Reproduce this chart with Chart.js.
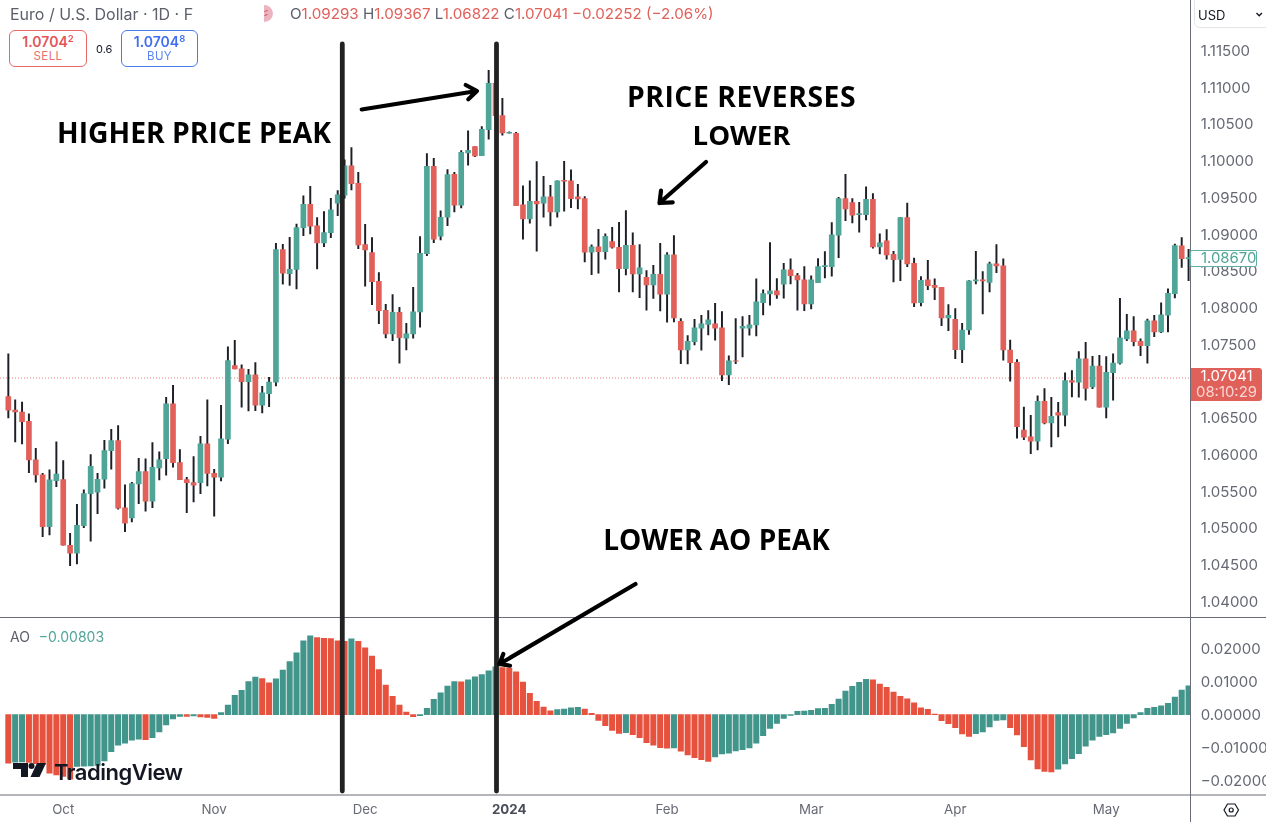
<!DOCTYPE html>
<html>
<head>
<meta charset="utf-8">
<script src="https://cdn.jsdelivr.net/npm/chart.js@4/dist/chart.umd.min.js"></script>
<style>
html,body{margin:0;padding:0;background:#fff;width:1266px;height:830px;overflow:hidden}
#wrap{position:relative;width:1266px;height:830px;font-family:Inter,sans-serif}
canvas{position:absolute;left:0;top:0}
svg{position:absolute;left:0;top:0}
.t{position:absolute;white-space:nowrap;line-height:1}
.ann{font-family:"Open Sans",sans-serif;font-weight:700;font-size:28.3px;color:#000;text-align:center;transform:translateX(-50%)}
.box{position:absolute;box-sizing:border-box;border-radius:6px;background:#fff;text-align:center}
sup{font-size:9.5px;vertical-align:top;position:relative;top:-1px;line-height:1}
</style>
</head>
<body>
<div id="wrap">
<canvas id="c" width="1266" height="830"></canvas>
<svg width="1266" height="830" viewBox="0 0 1266 830">
  <g stroke="#6a6d78" stroke-width="1" fill="none">
    <line x1="0" y1="617.5" x2="1266" y2="617.5"/>
    <line x1="0" y1="795" x2="1266" y2="795"/>
    <line x1="1190.5" y1="0" x2="1190.5" y2="822"/>
  </g>
  <g stroke="#222222" stroke-width="4.8" stroke-linecap="round">
    <line x1="342.3" y1="44" x2="342.3" y2="791"/>
    <line x1="496.5" y1="44" x2="496.5" y2="791"/>
  </g>
  <g stroke="#000" stroke-width="4.2" stroke-linecap="round" stroke-linejoin="round" fill="none">
    <path d="M361.7 109.5 L476.7 91 M465.7 85 L477 91 L468.3 99.3"/>
    <path d="M706 162 L659.5 203 M661 190.7 L659.5 203 L672.7 202.3"/>
    <path d="M635.5 584 L499.5 664 M503.3 654 L499.5 664 L510 665.7"/>
  </g>
  <g fill="#131722">
    <path d="M13 763 H28 V777 H21 V769 H13 Z"/>
    <circle cx="31.5" cy="766" r="3"/>
    <path d="M37 763 H46 L39.5 777 H30.5 Z"/>
  </g>
  <g stroke="#131722" stroke-width="1.2" fill="none">
    <path d="M1224 810 L1227.5 804 H1235 L1238.5 810 L1235 816 H1227.5 Z"/>
    <circle cx="1231.2" cy="810" r="2"/>
  </g>
  <path d="M264 5 A9 8.5 0 0 1 264 22 Z" fill="#ecb4c0"/>
  <path d="M264.5 11.5 l3 -1 M264.5 15.5 l3 -1" stroke="#d9475a" stroke-width="1"/>
</svg>

<div class="t" style="left:10px;top:5px;width:183px;overflow:hidden;font-size:16px;color:#5d606b;height:18px;line-height:18px">Euro / U.S. Dollar · 1D · FXCM</div>
<div class="t" style="left:290px;top:6px;font-size:15.15px;color:#e0605a;line-height:16px"><span style="color:#5d606b">O</span>1.09293 <span style="color:#5d606b">H</span>1.09367 <span style="color:#5d606b">L</span>1.06822 <span style="color:#5d606b">C</span>1.07041 −0.02252 (−2.06%)</div>

<div class="box" style="left:9px;top:30px;width:78px;height:37px;border:1px solid #e9666a;color:#e2565a">
  <div style="font-size:14px;font-weight:600;margin-top:4px;line-height:14px">1.0704<sup>2</sup></div>
  <div style="font-size:11.5px;margin-top:1px;line-height:13px;color:#e8706f;letter-spacing:.4px">SELL</div>
</div>
<div class="t" style="left:96px;top:43px;font-size:11px;color:#131722;line-height:12px">0.6</div>
<div class="box" style="left:121px;top:30px;width:77px;height:37px;border:1px solid #4a78ee;color:#3f6ef0">
  <div style="font-size:14px;font-weight:600;margin-top:4px;line-height:14px">1.0704<sup>8</sup></div>
  <div style="font-size:11.5px;margin-top:1px;line-height:13px;color:#5a84f0;letter-spacing:.4px">BUY</div>
</div>

<div class="box" style="left:1194px;top:-6px;width:78px;height:34px;border:1px solid #e4e5e9;"></div>
<svg width="1266" height="40" style="pointer-events:none"><path d="M1256.5 13 l2.7 2.7 l2.7 -2.7" stroke="#131722" stroke-width="1.4" fill="none"/></svg>
<div class="t" style="left:1198px;top:7.5px;font-size:13px;color:#131722;line-height:14px">USD</div>

<div class="box" style="left:1190px;top:249.5px;width:67px;height:17px;border:1.3px solid #5fb0a4;border-radius:2px;color:#4fa497;font-size:14.9px;line-height:14px;text-align:left;padding-left:10px">1.08670</div>
<div class="box" style="left:1191px;top:368px;width:71px;height:33px;background:#e0605a;border-radius:0 3px 3px 0;color:#fff;font-size:14.9px;line-height:15.5px;padding-top:1px;">1.07041<br><span style="color:#f9d6d3">08:10:29</span></div>

<div class="t" style="left:10px;top:629px;font-size:14px;color:#5d606b;line-height:15px">AO <span style="color:#4fa497;margin-left:5px">−0.00803</span></div>

<div class="t" style="left:54px;top:760px;font-size:22px;font-weight:600;color:#131722;letter-spacing:-.5px;line-height:24px">TradingView</div>

<div class="t ann" style="left:194px;top:114px;line-height:36px">HIGHER PRICE PEAK</div>
<div class="t ann" style="left:741.5px;top:77px;line-height:38px"><span style="letter-spacing:.55px">PRICE REVERSES</span><br><span style="font-size:27.6px">LOWER</span></div>
<div class="t ann" style="left:716.5px;top:521px;line-height:36px;font-size:28px">LOWER AO PEAK</div>
</div>

<script>
const opens = [1.06788,1.06606,1.06579,1.06452,1.05926,1.05722,1.05019,1.05645,1.05658,1.04764,1.04656,1.05032,1.05468,1.05486,1.05663,1.06053,1.06189,1.05273,1.05137,1.05599,1.05767,1.05363,1.05817,1.05944,1.06688,1.0589,1.05658,1.05617,1.05617,1.06144,1.05744,1.0569,1.06207,1.0721,1.07165,1.06992,1.07083,1.0667,1.06829,1.06983,1.08789,1.08462,1.08521,
1.09089,1.09406,1.09112,1.0888,1.09021,1.0942,1.09529,1.09928,1.09692,1.08858,1.08749,1.08358,1.07964,1.07642,1.07936,1.07583,1.07642,1.07941,1.08735,1.09924,1.08971,1.0923,1.09815,1.09393,1.10105,1.10191,1.10069,1.10423,1.11053,1.10613,1.10373,1.10373,1.09397,1.09207,1.09447,1.0942,1.09506,1.09302,1.09733,1.09724,1.09506,
1.09484,1.08753,1.08826,1.08762,1.08898,1.08821,1.08531,1.08849,1.08458,1.08413,1.08309,1.08454,1.08182,1.08717,1.07814,1.07424,1.07537,1.07719,1.07769,1.07778,1.07723,1.07084,1.07274,1.07719,1.07719,1.07764,1.08068,1.08186,1.08227,1.08318,1.08513,1.08436,1.08377,1.0805,1.0834,1.08558,1.08558,1.08985,1.09484,1.09429,1.09266,1.09266,1.09475,1.08826,1.08908,1.08726,
1.08657,1.09224,1.08603,1.08067,1.08376,1.08303,1.08276,1.07859,1.07841,1.07428,1.07695,1.08363,1.08376,1.08344,1.08594,1.08567,1.07423,1.07255,1.06334,1.06239,1.0618,1.06725,1.0643,1.0657,1.06534,1.07006,1.06983,1.07301,1.0692,1.07205,1.06643,1.07115,1.07242,1.07573,1.07682,1.07541,1.07482,1.07818,1.07668,1.07895,1.0819,1.08839,1.08666];
const highs = [1.07369,1.06743,1.06715,1.06552,1.06085,1.05744,1.0579,1.06171,1.05917,1.04928,1.05322,1.05518,1.05999,1.05744,1.06194,1.06343,1.06393,1.05586,1.05622,1.05949,1.0594,1.06162,1.06035,1.06779,1.06942,1.06067,1.0569,1.05971,1.06248,1.06743,1.05799,1.0667,1.07464,1.07555,1.07219,1.0716,1.07251,1.06929,1.07051,1.08875,1.08861,1.08957,1.09138,
1.0952,1.09651,1.09225,1.09307,1.09488,1.09593,1.1001,1.10178,1.09842,1.09134,1.08953,1.08476,1.08045,1.08177,1.08005,1.07787,1.08277,1.08966,1.10096,1.10033,1.09316,1.09878,1.09842,1.10137,1.10405,1.10191,1.10464,1.1123,1.11099,1.10849,1.10391,1.10386,1.09656,1.09724,1.09987,1.09788,1.09665,1.09724,1.09992,1.09874,1.09679,
1.09511,1.08853,1.09066,1.09003,1.09094,1.09162,1.0932,1.09016,1.08858,1.08504,1.08576,1.08876,1.08749,1.0898,1.0785,1.07619,1.07841,1.07896,1.07959,1.08059,1.07946,1.07342,1.0785,1.07878,1.07896,1.0839,1.08241,1.08885,1.08395,1.08604,1.08663,1.08467,1.08558,1.08431,1.08667,1.08762,1.09157,1.09502,1.09815,1.09484,1.09434,1.09643,1.09552,1.09003,1.09062,1.08767,
1.09224,1.09424,1.08675,1.08421,1.08644,1.0839,1.08276,1.0804,1.07986,1.07786,1.08367,1.08766,1.08489,1.08621,1.08857,1.08662,1.07559,1.07292,1.06647,1.06534,1.06797,1.06897,1.06779,1.06711,1.0711,1.07142,1.07401,1.07528,1.07337,1.07351,1.07332,1.07369,1.08126,1.07909,1.07877,1.07573,1.07845,1.07895,1.08063,1.08254,1.08866,1.08952,1.08793];
const lows = [1.06498,1.06171,1.06144,1.05753,1.05622,1.04882,1.04905,1.05563,1.04764,1.04488,1.0451,1.05005,1.04819,1.05195,1.0554,1.05799,1.05254,1.0495,1.05082,1.05332,1.05227,1.05277,1.05654,1.05717,1.05826,1.05658,1.05209,1.05354,1.05468,1.05572,1.05159,1.0564,1.06148,1.07165,1.06643,1.06593,1.06597,1.06566,1.06652,1.06933,1.08317,1.08303,1.08253,
1.0898,1.09003,1.08526,1.0883,1.08953,1.09252,1.09488,1.09602,1.08803,1.0829,1.08041,1.07782,1.07587,1.07551,1.07242,1.07424,1.07583,1.07732,1.08708,1.08885,1.08921,1.09116,1.09302,1.09357,1.09937,1.10055,1.10069,1.10291,1.10554,1.10346,1.10373,1.09388,1.0893,1.09148,1.08767,1.0923,1.09112,1.0923,1.09311,1.09361,1.09343,
1.08622,1.08449,1.08467,1.08658,1.08808,1.08213,1.08445,1.08213,1.08136,1.07964,1.08123,1.07955,1.078,1.07805,1.07238,1.07233,1.07492,1.07419,1.07628,1.07555,1.07006,1.06952,1.07238,1.07329,1.07624,1.07614,1.079,1.08032,1.08123,1.08127,1.08322,1.07964,1.07959,1.07982,1.0834,1.08404,1.08427,1.08681,1.09184,1.09153,1.09025,1.09193,1.08808,1.08731,1.08658,1.0835,
1.08367,1.08557,1.08013,1.08022,1.08244,1.08108,1.07754,1.07686,1.07305,1.07251,1.07636,1.08322,1.07913,1.08213,1.08476,1.07283,1.06997,1.06221,1.06203,1.06012,1.06062,1.06416,1.06103,1.06239,1.06389,1.06784,1.06779,1.06738,1.06897,1.06643,1.06498,1.06738,1.07228,1.0755,1.07478,1.07346,1.07242,1.07605,1.07659,1.07668,1.08131,1.08548,1.08367];
const closes = [1.06602,1.06579,1.06448,1.05926,1.05722,1.05019,1.05654,1.05735,1.04764,1.04656,1.05037,1.05468,1.0584,1.05663,1.06053,1.06189,1.05268,1.05064,1.05604,1.05767,1.05363,1.05826,1.05926,1.06688,1.0589,1.05658,1.05617,1.05581,1.06144,1.05744,1.0569,1.06212,1.07278,1.07165,1.06992,1.07083,1.0667,1.06838,1.06987,1.08789,1.08467,1.08521,1.09088,
1.09406,1.09107,1.0888,1.09021,1.09329,1.09534,1.09928,1.09688,1.08853,1.08785,1.08354,1.07959,1.07642,1.07936,1.07592,1.07642,1.07941,1.0874,1.09924,1.0893,1.0923,1.0981,1.09393,1.10114,1.10141,1.10064,1.10427,1.11053,1.10613,1.10377,1.10386,1.09388,1.09207,1.09447,1.09411,1.09506,1.09302,1.09724,1.0972,1.09484,1.09479,
1.08753,1.08826,1.08762,1.08971,1.08821,1.08531,1.08849,1.08458,1.0854,1.08309,1.08454,1.08182,1.08717,1.07859,1.07424,1.07542,1.07723,1.07778,1.07832,1.07719,1.07084,1.07274,1.0727,1.07746,1.07764,1.08077,1.08191,1.08227,1.08173,1.08513,1.08436,1.08377,1.0805,1.08377,1.08558,1.08572,1.08989,1.09484,1.09343,1.09257,1.0928,1.09475,1.08826,1.0888,1.08717,1.08653,
1.09224,1.08594,1.08063,1.08371,1.08299,1.08276,1.07859,1.07895,1.07428,1.07695,1.08363,1.08376,1.08363,1.08594,1.08567,1.07423,1.07251,1.0638,1.06235,1.0618,1.06725,1.0643,1.0652,1.06534,1.07006,1.06983,1.07301,1.06901,1.07205,1.06643,1.07119,1.07246,1.07587,1.07682,1.07537,1.07482,1.07818,1.07668,1.079,1.08195,1.08843,1.08666,1.0868];
const aoValues = [-0.01475,-0.01444,-0.01434,-0.01454,-0.01485,-0.01515,-0.01778,-0.01828,-0.01879,-0.01959,-0.01575,-0.01565,-0.01555,-0.01545,-0.01404,-0.01121,-0.00929,-0.00869,-0.00778,-0.00747,-0.00757,-0.00697,-0.00525,-0.00313,-0.00131,-0.00051,-0.00055,-0.0004,-0.00071,-0.00081,-0.00111,0.00061,0.00293,0.00586,0.00737,0.0101,0.01141,0.01101,0.0097,0.01091,0.01353,0.01616,0.01879,0.02242,0.02394,0.02343,0.02323,0.02313,0.02242,0.02232,0.02303,0.02232,0.0203,0.01778,0.01374,0.00899,0.00556,0.00293,
0.00081,-0.00061,-0.0003,0.00192,0.00465,0.00667,0.00869,0.0101,0.01,0.01061,0.01151,0.01222,0.01333,0.01454,0.01434,0.01414,0.01303,0.0099,0.00646,0.00404,0.00232,0.00121,0.00152,0.00172,0.00212,0.00222,0.00172,0.0004,-0.00172,-0.00333,-0.00475,-0.00566,-0.00545,-0.00606,-0.00697,-0.00848,-0.00929,-0.01,-0.0102,-0.0101,-0.01111,-0.01222,-0.01303,-0.01364,-0.01424,-0.01283,-0.01192,-0.01172,-0.01101,-0.01061,-0.0101,-0.00869,-0.00636,-0.00414,-0.00263,-0.00111,-0.0002,0.00101,
0.00111,0.00131,0.00182,0.00192,0.00313,0.00475,0.00717,0.00859,0.0098,0.01071,0.01061,0.00929,0.00828,0.00687,0.00556,0.00485,0.00364,0.00212,0.00162,0.0002,-0.00182,-0.00273,-0.00394,-0.00586,-0.00657,-0.00576,-0.00525,-0.00374,-0.00172,-0.00162,-0.00394,-0.00616,-0.0097,-0.01374,-0.01646,-0.01727,-0.01737,-0.01656,-0.01495,-0.01333,-0.01182,-0.0096,-0.00778,-0.00657,-0.00606,-0.00556,-0.00414,-0.00263,-0.00101,0.00061,0.00192,0.00222,0.00273,0.00343,0.00535,0.00747,0.00879];
const monthTickIndex = [8,30,52,73,96,117,138,160];
const monthTickLabels = ["Oct","Nov","Dec","2024","Feb","Mar","Apr","May"];
const priceTicks = [1.04,1.045,1.05,1.055,1.06,1.065,1.07,1.075,1.08,1.085,1.09,1.095,1.10,1.105,1.11,1.115];
const aoTicks = [-0.02,-0.01,0,0.01,0.02];
const lastPrice = 1.07041;

const UP="#4fa698", DOWN="#e1605a", AO_UP="#41958a", AO_DOWN="#e7523f", WICK="#1c1f26", TICK="#666974";
const xs = opens.map((_,i)=>i);
const bodyData = xs.map(i=>({x:i,y:[Math.min(opens[i],closes[i]),Math.max(opens[i],closes[i])]}));
const wickData = xs.map(i=>({x:i,y:[lows[i],highs[i]]}));
const bodyColors = xs.map(i=>closes[i]>=opens[i]?UP:DOWN);
const aoData = aoValues.map((v,i)=>({x:i,y:v}));
const aoColors = aoValues.map((v,i)=>(i>0 && v>=aoValues[i-1])?AO_UP:AO_DOWN);
const X_MIN=-1.214, X_MAX=172.31;
const noPad = s=>{s.paddingLeft=0;s.paddingRight=0;s.paddingTop=0;s.paddingBottom=0;};

new Chart(document.getElementById('c'),{
  data:{datasets:[
    {type:'bar',label:'Body',data:bodyData,xAxisID:'x',yAxisID:'y',backgroundColor:bodyColors,barThickness:5,grouped:false,order:1},
    {type:'bar',label:'Wick',data:wickData,xAxisID:'x',yAxisID:'y',backgroundColor:WICK,barThickness:1.3,grouped:false,order:2},
    {type:'line',label:'Last',data:[{x:X_MIN,y:lastPrice},{x:X_MAX,y:lastPrice}],xAxisID:'x',yAxisID:'y',borderColor:'rgba(225,96,90,.8)',borderWidth:1,borderDash:[1,2],pointRadius:0,order:3},
    {type:'bar',label:'AO',data:aoData,xAxisID:'x',yAxisID:'ao',backgroundColor:aoColors,barThickness:5.4,grouped:false,order:1}
  ]},
  options:{
    responsive:false,animation:false,devicePixelRatio:1,
    layout:{padding:0},
    plugins:{legend:{display:false},tooltip:{enabled:false},title:{display:false}},
    scales:{
      x:{type:'linear',position:'bottom',offset:false,min:X_MIN,max:X_MAX,
        grid:{display:false,drawTicks:false},border:{display:false},
        afterBuildTicks:s=>{s.ticks=monthTickIndex.map(v=>({value:v}));},
        afterFit:s=>{s.height=35;noPad(s);},
        ticks:{autoSkip:false,maxRotation:0,padding:7.5,color:c=>c.index===3?'#4a4d58':TICK,
          font:c=>({family:'Inter',size:13.3,weight:c.index===3?'700':'400'}),
          callback:(v,i)=>monthTickLabels[i]}
      },
      y:{type:'linear',position:'right',stack:'panes',stackWeight:617.5,min:1.03781,max:1.12187,
        grid:{display:false,drawTicks:false},border:{display:false},
        afterBuildTicks:s=>{s.ticks=priceTicks.map(v=>({value:v}));},
        afterFit:s=>{s.width=75.3;noPad(s);},
        ticks:{autoSkip:false,padding:10,labelOffset:1,color:TICK,font:{family:'Inter',size:15},callback:v=>v.toFixed(5)}
      },
      ao:{type:'linear',position:'right',stack:'panes',stackWeight:177.5,min:-0.02441,max:0.02954,
        grid:{display:false,drawTicks:false},border:{display:false},
        afterBuildTicks:s=>{s.ticks=aoTicks.map(v=>({value:v}));},
        afterFit:s=>{s.width=75.3;noPad(s);},
        ticks:{autoSkip:false,padding:10,labelOffset:1,color:TICK,font:{family:'Inter',size:15},callback:v=>(v<0?'\u2212':'')+Math.abs(v).toFixed(5)}
      }
    }
  }
});
</script>
</body>
</html>
